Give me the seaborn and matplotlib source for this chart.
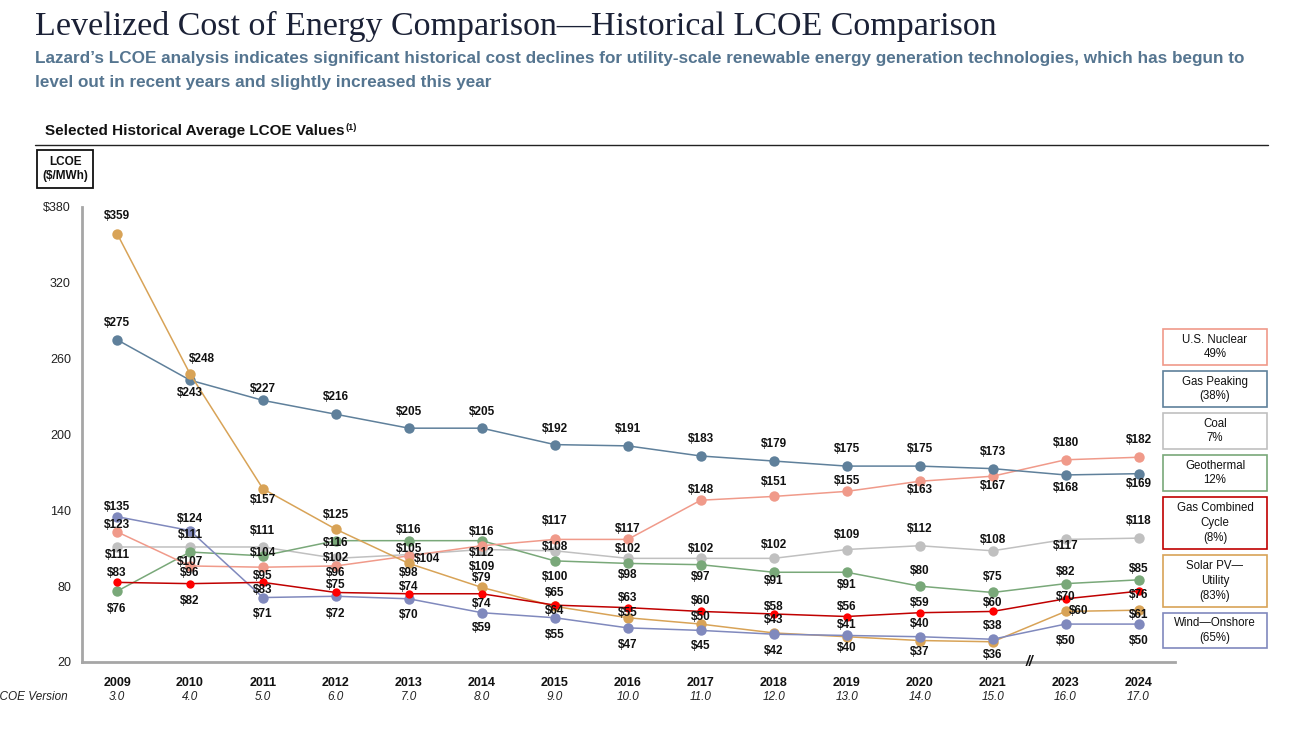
import numpy as np
import pandas as pd
import matplotlib
matplotlib.use("Agg")
import matplotlib.pyplot as plt
import matplotlib.patches as patches
from matplotlib.lines import Line2D
import seaborn as sns

# ---- data (historical average LCOE, $/MWh) ----
years = ["2009", "2010", "2011", "2012", "2013", "2014", "2015", "2016",
         "2017", "2018", "2019", "2020", "2021", "2023", "2024"]
versions = ["3.0", "4.0", "5.0", "6.0", "7.0", "8.0", "9.0", "10.0",
            "11.0", "12.0", "13.0", "14.0", "15.0", "16.0", "17.0"]

gas_peaking = [275, 243, 227, 216, 205, 205, 192, 191, 183, 179, 175, 175, 173, 168, 169]
nuclear = [123, 96, 95, 96, 104, 112, 117, 117, 148, 151, 155, 163, 167, 180, 182]
coal = [111, 111, 111, 102, 105, 109, 108, 102, 102, 102, 109, 112, 108, 117, 118]
geothermal = [76, 107, 104, 116, 116, 116, 100, 98, 97, 91, 91, 80, 75, 82, 85]
gas_cc = [83, 82, 83, 75, 74, 74, 65, 63, 60, 58, 56, 59, 60, 70, 76]
solar = [359, 248, 157, 125, 98, 79, 64, 55, 50, 43, 40, 37, 36, 60, 61]
wind = [135, 124, 71, 72, 70, 59, 55, 47, 45, 42, 41, 40, 38, 50, 50]

legend_names = ["U.S. Nuclear\n49%", "Gas Peaking\n(38%)", "Coal\n7%", "Geothermal\n12%",
                "Gas Combined\nCycle\n(8%)", "Solar PV\u2014\nUtility\n(83%)", "Wind\u2014Onshore\n(65%)"]

# ---- styling ----
C_PEAK = "#5f809b"
C_NUC = "#f09a8a"
C_COAL = "#c0c0c0"
C_GEO = "#79a879"
C_CC = "#c00000"
C_CC_MK = "#ff0000"
C_SOLAR = "#d8a357"
C_WIND = "#8089bd"

# label vertical offsets in pixels (negative = above the point)
label_dy = {
    "peak": [-17, 13, -11, -17, -16, -16, -16, -17, -17, -17, -17, -17, -17, 13, 10],
    "nuc": [-7, 7, 9, 7, 3, 7, -18, -10, -10, -14, -10, 9, 10, -17, -17],
    "coal": [8, -12, -16, 0, -6, 17, -4, -9, -9, -13, -15, -17, -11, 7, -17],
    "geo": [18, 10, -3, 2, -11, -9, 16, 12, 12, 9, 13, -15, -15, -12, -11],
    "cc": [-9, 17, 8, -7, -7, 10, -12, -10, -10, -7, -10, -10, -8, -2, 4],
    "solar": [-18, -15, 11, -14, 10, -9, 5, -5, -7, -13, 11, 11, 13, 0, 5],
    "wind": [-10, -12, 16, 18, 16, 15, 17, 17, 16, 17, -10, -13, -13, 17, 17],
}
label_dx = {"nuc": {4: 18}, "solar": {1: 12, 13: 13}}

series = [
    ("coal", coal, C_COAL, C_COAL, 7.5),
    ("geo", geothermal, C_GEO, C_GEO, 7.5),
    ("nuc", nuclear, C_NUC, C_NUC, 7.5),
    ("peak", gas_peaking, C_PEAK, C_PEAK, 7.5),
    ("solar", solar, C_SOLAR, C_SOLAR, 7.5),
    ("wind", wind, C_WIND, C_WIND, 7.5),
    ("cc", gas_cc, C_CC, C_CC_MK, 6.0),
]

sns.set_style("white")
plt.rcParams["font.family"] = ["Liberation Sans", "DejaVu Sans"]

W, H = 1312, 733
fig = plt.figure(figsize=(W / 100, H / 100), dpi=100)
ax = fig.add_axes([82 / W, 1 - 662 / H, (1175 - 82) / W, (662 - 207) / H])

idx = np.arange(len(years))
for key, vals, lc, mc, ms in series:
    df = pd.DataFrame({"x": idx, "y": vals})
    sns.lineplot(data=df, x="x", y="y", ax=ax, color=lc, linewidth=1.1,
                 marker="o", markersize=ms, markerfacecolor=mc,
                 markeredgecolor=mc, markeredgewidth=0)

for key, vals, lc, mc, ms in series:
    for i, v in enumerate(vals):
        dx = label_dx.get(key, {}).get(i, 0)
        dy = label_dy[key][i]
        ax.annotate(f"${v}", (i, v), xytext=(dx * 0.72, -dy * 0.72),
                    textcoords="offset points", ha="center", va="center",
                    fontsize=8.5, fontweight="bold", color="#111111", zorder=10)

ax.set_xlim(-0.48, 14.5)
ax.set_ylim(20, 380)
ax.set_xlabel("")
ax.set_ylabel("")
yt = [20, 80, 140, 200, 260, 320, 380]
ax.set_yticks(yt)
ax.set_yticklabels([str(t) if t != 380 else "$380" for t in yt], fontsize=9, color="#222222")
ax.set_xticks(idx)
ax.set_xticklabels(years, fontsize=9, fontweight="bold", color="#111111")
ax.tick_params(axis="x", which="major", length=0, pad=11)
ax.set_xticks([k + 0.5 for k in range(12)] + [13.5, 14.5], minor=True)
ax.tick_params(axis="x", which="minor", direction="in", length=4, width=1.5, color="#a6a6a6")
ax.tick_params(axis="y", direction="out", length=5, width=1.5, color="#a6a6a6", pad=3)
for s in ["top", "right"]:
    ax.spines[s].set_visible(False)
for s in ["left", "bottom"]:
    ax.spines[s].set_color("#a6a6a6")
    ax.spines[s].set_linewidth(2)
ax.grid(False)

for i, v in enumerate(versions):
    ax.text(i, -0.077, v, transform=ax.get_xaxis_transform(), ha="center", va="center",
            fontsize=8.5, style="italic", color="#222222")
ax.text(12.5, 0, "//", transform=ax.get_xaxis_transform(), ha="center", va="center",
        fontsize=10, style="italic", fontweight="bold", color="#111111", zorder=12)
# the reference crops the start of this label at the left edge
fig.text(68 / W, 1 - 697 / H, "LCOE Version", ha="right", va="center",
         fontsize=8.5, style="italic", color="#222222")

# ---- header ----
fig.text(35 / W, 1 - 26 / H, "Levelized Cost of Energy Comparison\u2014Historical LCOE Comparison",
         family=["Liberation Serif", "DejaVu Serif"], fontsize=24.5, color="#1b2136",
         ha="left", va="center")
fig.text(35 / W, 1 - 58 / H,
         "Lazard\u2019s LCOE analysis indicates significant historical cost declines for utility-scale "
         "renewable energy generation technologies, which has begun to",
         fontsize=12.35, fontweight="bold", color="#557590", ha="left", va="center")
fig.text(35 / W, 1 - 82 / H, "level out in recent years and slightly increased this year",
         fontsize=12.35, fontweight="bold", color="#557590", ha="left", va="center")

hdr = fig.text(45 / W, 1 - 131 / H, "Selected Historical Average LCOE Values",
               fontsize=11, fontweight="bold", color="#111111", ha="left", va="center")
fig.canvas.draw()
bb = hdr.get_window_extent(fig.canvas.get_renderer())
fig.text(bb.x1 / W + 1 / W, 1 - 127 / H, "(1)", fontsize=6.5, fontweight="bold",
         color="#111111", ha="left", va="center")
fig.add_artist(Line2D([35 / W, 1268 / W], [1 - 145 / H, 1 - 145 / H], color="#222222",
                      linewidth=1.0, transform=fig.transFigure))

# LCOE unit box
fig.add_artist(patches.Rectangle((37 / W, 1 - 188 / H), 56 / W, 38 / H, fill=False,
                                 edgecolor="#111111", linewidth=1.3, transform=fig.transFigure))
fig.text(65 / W, 1 - 169 / H, "LCOE\n($/MWh)", ha="center", va="center", fontsize=8.5,
         fontweight="bold", color="#111111", linespacing=1.25)

# ---- legend boxes ----
box_y = [(329, 365), (371, 407), (413, 449), (455, 491), (497, 549), (555, 607), (613, 648)]
box_c = [C_NUC, C_PEAK, C_COAL, C_GEO, C_CC, C_SOLAR, C_WIND]
for name, (y0, y1), c in zip(legend_names, box_y, box_c):
    fig.add_artist(patches.Rectangle((1163 / W, 1 - y1 / H), 104 / W, (y1 - y0) / H,
                                     fill=False, edgecolor=c, linewidth=1.2,
                                     transform=fig.transFigure))
    fig.text(1215 / W, 1 - (y0 + y1) / 2 / H, name, ha="center", va="center",
             fontsize=8.3, color="#111111", linespacing=1.3)

fig.savefig("out.png", dpi=100)
